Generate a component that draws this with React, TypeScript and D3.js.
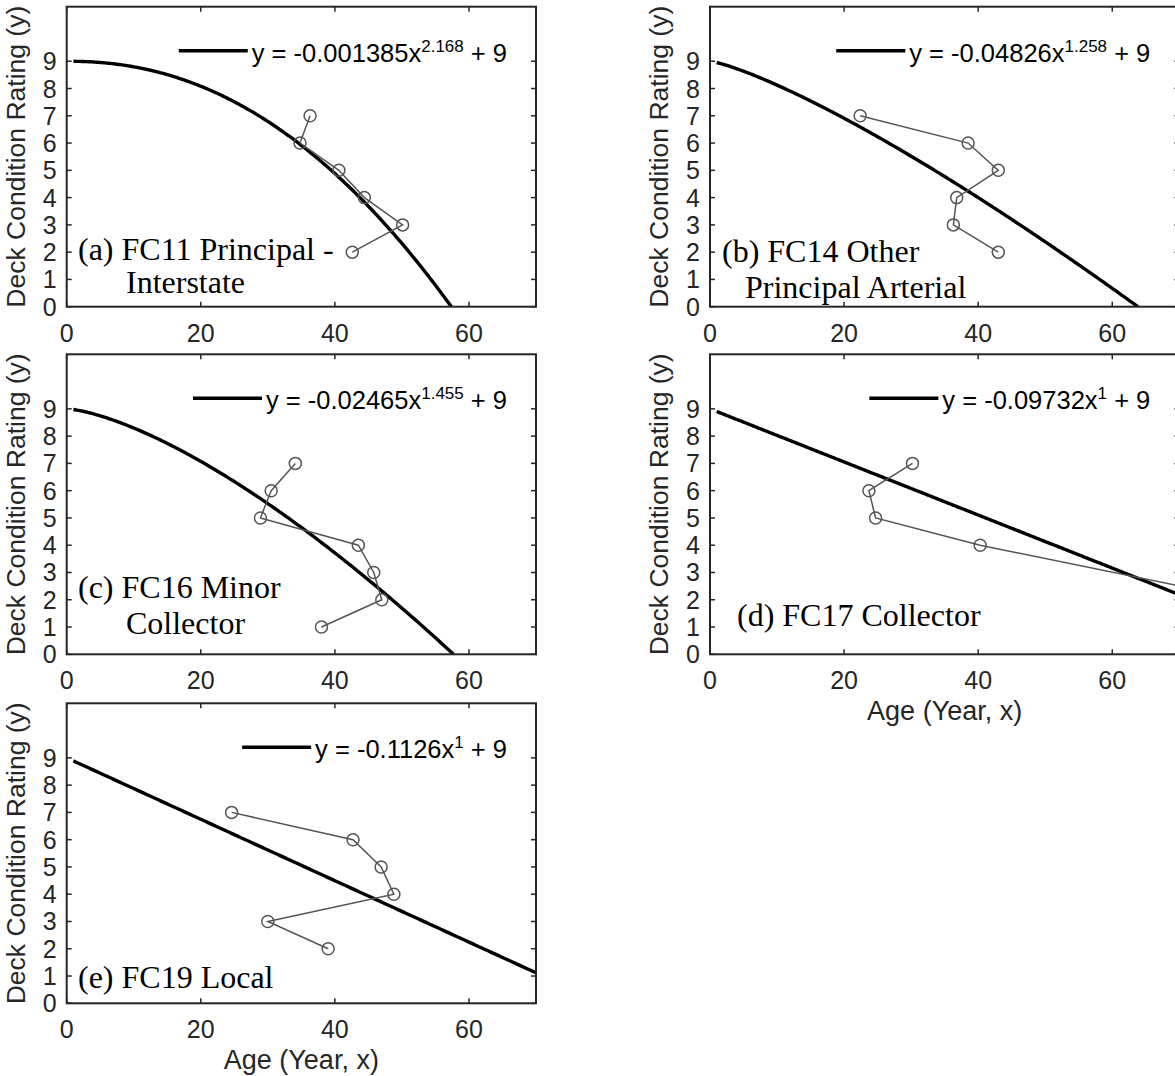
import React, { useEffect, useRef } from "react";
import * as d3 from "d3";

// ---- data ----
const panelKeys = ["a", "b", "c", "d", "e"];
const panelTitles = [
  ["(a) FC11 Principal -", "Interstate"],
  ["(b) FC14 Other", "Principal Arterial"],
  ["(c) FC16 Minor", "Collector"],
  ["(d) FC17 Collector"],
  ["(e) FC19 Local"],
];
const fitCoefs = [0.001385, 0.04826, 0.02465, 0.09732, 0.1126];
const fitCoefLabels = ["0.001385", "0.04826", "0.02465", "0.09732", "0.1126"];
const fitExps = [2.168, 1.258, 1.455, 1, 1];
const fitExpLabels = ["2.168", "1.258", "1.455", "1", "1"];
const fitIntercept = 9;

const ageA = [36.3, 34.8, 40.6, 44.4, 50.1, 42.6];
const ratingA = [7, 6, 5, 4, 3, 2];
const ageB = [22.4, 38.5, 43.0, 36.8, 36.3, 43.0];
const ratingB = [7, 6, 5, 4, 3, 2];
const ageC = [34.1, 30.5, 28.9, 43.5, 45.8, 47.0, 38.0];
const ratingC = [7, 6, 5, 4, 3, 2, 1];
const ageD = [30.2, 23.7, 24.7, 40.3, 80.2];
const ratingD = [7, 6, 5, 4, 2];
const ageE = [24.6, 42.7, 46.9, 48.8, 30.0, 39.0];
const ratingE = [7, 6, 5, 4, 3, 2];

const ages = [ageA, ageB, ageC, ageD, ageE];
const ratings = [ratingA, ratingB, ratingC, ratingD, ratingE];

const xTicks = [0, 20, 40, 60];
const yTicks = [0, 1, 2, 3, 4, 5, 6, 7, 8, 9];
const xDomain = [0, 70];
const yDomain = [0, 11];
const fitStartAge = 1;
const yLabel = "Deck Condition Rating (y)";
const xLabel = "Age (Year, x)";

// ---- layout ----
const W = 1175;
const H = 1076;
const colX = [66.7, 710];
const rowY = [6.7, 354.3, 703.3];
const PW = 469.3;
const PH = 300;
const panelCell = [
  [0, 0],
  [1, 0],
  [0, 1],
  [1, 1],
  [0, 2],
];
const showXTitle = [false, false, false, true, true];
const titlePos = [
  [[11.3, 253.3], [59.3, 286.3]],
  [[12, 255.3], [35, 291]],
  [[11.3, 243.7], [59.3, 279.7]],
  [[27, 271.7]],
  [[11.3, 284.7]],
];

const SANS = "'Liberation Sans', Arial, Helvetica, sans-serif";
const SERIF = "'Liberation Serif', 'Times New Roman', Times, serif";
const AXIS = "#262626";
const DATA = "#555555";
const TICK_FS = 25;
const LABEL_FS = 26.5;
const LEG_FS = 25.5;
const SUP_FS = 17;

export default function App() {
  const ref = useRef<SVGSVGElement | null>(null);

  useEffect(() => {
    const svg = d3.select(ref.current);
    svg.selectAll("*").remove();
    svg.append("rect").attr("width", W).attr("height", H).attr("fill", "#fff");

    panelKeys.forEach((key, i) => {
      const [c, r] = panelCell[i];
      const g = svg
        .append("g")
        .attr("transform", `translate(${colX[c]},${rowY[r]})`);
      const x = d3.scaleLinear().domain(xDomain).range([0, PW]);
      const y = d3.scaleLinear().domain(yDomain).range([PH, 0]);

      const clipId = `clip-${key}`;
      g.append("clipPath")
        .attr("id", clipId)
        .append("rect")
        .attr("width", PW)
        .attr("height", PH);

      const plot = g.append("g").attr("clip-path", `url(#${clipId})`);

      // fitted curve
      const a = fitCoefs[i];
      const b = fitExps[i];
      const xZero = Math.pow(fitIntercept / a, 1 / b);
      const xEnd = Math.min(xDomain[1], xZero);
      const xs = d3.range(fitStartAge, xEnd, 0.25).concat([xEnd]);
      const fit = xs.map((v) => [v, fitIntercept - a * Math.pow(v, b)]);
      plot
        .append("path")
        .attr(
          "d",
          d3
            .line<number[]>()
            .x((d) => x(d[0]))
            .y((d) => y(d[1]))(fit)
        )
        .attr("fill", "none")
        .attr("stroke", "#000")
        .attr("stroke-width", 3.4);

      // observed data
      const pts = ages[i].map((v, k) => [v, ratings[i][k]]);
      plot
        .append("path")
        .attr(
          "d",
          d3
            .line<number[]>()
            .x((d) => x(d[0]))
            .y((d) => y(d[1]))(pts)
        )
        .attr("fill", "none")
        .attr("stroke", DATA)
        .attr("stroke-width", 1.5);
      plot
        .selectAll("circle")
        .data(pts)
        .enter()
        .append("circle")
        .attr("cx", (d) => x(d[0]))
        .attr("cy", (d) => y(d[1]))
        .attr("r", 6)
        .attr("fill", "none")
        .attr("stroke", DATA)
        .attr("stroke-width", 1.5);

      // ticks
      const tl = 5;
      xTicks.forEach((t) => {
        g.append("line")
          .attr("x1", x(t)).attr("x2", x(t))
          .attr("y1", PH).attr("y2", PH - tl)
          .attr("stroke", AXIS).attr("stroke-width", 1.5);
        g.append("line")
          .attr("x1", x(t)).attr("x2", x(t))
          .attr("y1", 0).attr("y2", tl)
          .attr("stroke", AXIS).attr("stroke-width", 1.5);
        g.append("text")
          .attr("x", x(t))
          .attr("y", PH + 35)
          .attr("text-anchor", "middle")
          .attr("font-family", SANS)
          .attr("font-size", TICK_FS)
          .attr("fill", AXIS)
          .text(String(t));
      });
      yTicks.forEach((t) => {
        g.append("line")
          .attr("x1", 0).attr("x2", tl)
          .attr("y1", y(t)).attr("y2", y(t))
          .attr("stroke", AXIS).attr("stroke-width", 1.5);
        g.append("line")
          .attr("x1", PW).attr("x2", PW - tl)
          .attr("y1", y(t)).attr("y2", y(t))
          .attr("stroke", AXIS).attr("stroke-width", 1.5);
        g.append("text")
          .attr("x", -10)
          .attr("y", y(t) + 9)
          .attr("text-anchor", "end")
          .attr("font-family", SANS)
          .attr("font-size", TICK_FS)
          .attr("fill", AXIS)
          .text(String(t));
      });

      // box
      g.append("rect")
        .attr("width", PW)
        .attr("height", PH)
        .attr("fill", "none")
        .attr("stroke", AXIS)
        .attr("stroke-width", 2);

      // y label
      g.append("text")
        .attr("transform", `translate(-42,${PH / 2}) rotate(-90)`)
        .attr("text-anchor", "middle")
        .attr("font-family", SANS)
        .attr("font-size", LABEL_FS)
        .attr("fill", AXIS)
        .text(yLabel);

      if (showXTitle[i]) {
        g.append("text")
          .attr("x", PW / 2)
          .attr("y", PH + 66)
          .attr("text-anchor", "middle")
          .attr("font-family", SANS)
          .attr("font-size", 27)
          .attr("fill", AXIS)
          .text(xLabel);
      }

      // legend
      const lt = g
        .append("text")
        .attr("x", PW - 29)
        .attr("y", 55)
        .attr("text-anchor", "end")
        .attr("font-family", SANS)
        .attr("font-size", LEG_FS)
        .attr("fill", "#000");
      lt.append("tspan").text(`y = -${fitCoefLabels[i]}x`);
      lt.append("tspan")
        .attr("dy", -10)
        .attr("font-size", SUP_FS)
        .text(fitExpLabels[i]);
      lt.append("tspan").attr("dy", 10).text(` + ${fitIntercept}`);
      const bb = (lt.node() as SVGTextElement).getBBox();
      g.append("line")
        .attr("x1", bb.x - 73)
        .attr("x2", bb.x - 4)
        .attr("y1", 44)
        .attr("y2", 44)
        .attr("stroke", "#000")
        .attr("stroke-width", 3.4);

      // panel title
      panelTitles[i].forEach((line, k) => {
        g.append("text")
          .attr("x", titlePos[i][k][0])
          .attr("y", titlePos[i][k][1])
          .attr("font-family", SERIF)
          .attr("font-size", 32)
          .attr("fill", "#000")
          .text(line);
      });
    });
  }, []);

  return (
    <svg
      ref={ref}
      width={W}
      height={H}
      style={{ position: "absolute", left: 0, top: 0, display: "block" }}
    />
  );
}
